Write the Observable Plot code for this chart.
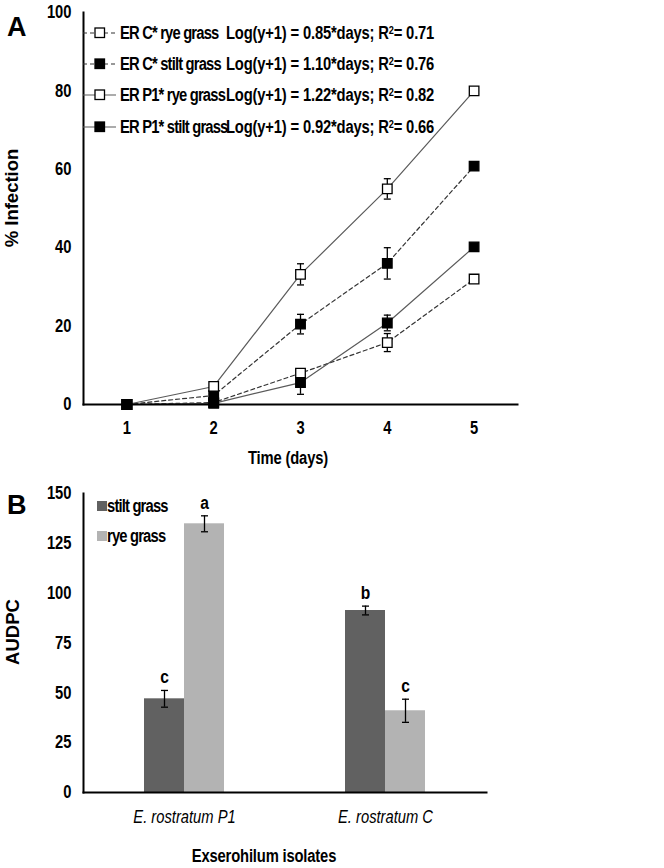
<!DOCTYPE html>
<html><head><meta charset="utf-8">
<script src="https://cdn.jsdelivr.net/npm/d3@7"></script>
<script src="https://cdn.jsdelivr.net/npm/@observablehq/plot@0.6"></script>
<style>
body{margin:0;background:#fff;}
#wrap{position:relative;width:664px;height:868px;overflow:hidden;font-family:"Liberation Sans",Arial,sans-serif;color:#000;}
#wrap svg{display:block;}
.abs{position:absolute;white-space:nowrap;line-height:1;}
sup{font-size:0.62em;vertical-align:0.45em;line-height:0;}
</style></head><body><div id="wrap"></div>
<script>
// ---------- Panel A data ----------
const days = [1, 2, 3, 4, 5];
const seriesNames = ["ER C* rye grass", "ER C* stilt grass", "ER P1* rye grass", "ER P1* stilt grass"];
const eqSlopes = ["0.85", "1.10", "1.22", "0.92"];
const eqR2 = ["0.71", "0.76", "0.82", "0.66"];
const seriesDashed = [true, true, false, false];
const seriesFilled = [false, true, false, true];
const cRyeValues    = [0, 0.5, 8.0, 15.8, 32.0];
const cStiltValues  = [0, 2.3, 20.5, 36.0, 60.8];
const p1RyeValues   = [0, 4.6, 33.2, 55.0, 80.0];
const p1StiltValues = [0, 0.3, 5.6, 20.8, 40.2];
const cRyeErr    = [0, 0, 0.8, 2.3, 0];
const cStiltErr  = [0, 0, 2.5, 4.0, 0];
const p1RyeErr   = [0, 0, 2.7, 2.6, 0];
const p1StiltErr = [0, 0, 3.0, 2.0, 0];
const yTicksA = [0, 20, 40, 60, 80, 100];

// ---------- Panel B data ----------
const isolates = ["E. rostratum P1", "E. rostratum C"];
const grasses = ["stilt grass", "rye grass"];
const stiltAUDPC = [47.0, 91.3];
const ryeAUDPC   = [134.8, 41.0];
const stiltErrB  = [4.2, 2.2];
const ryeErrB    = [4.0, 5.8];
const stiltLetters = ["c", "b"];
const ryeLetters   = ["a", "c"];
const yTicksB = [0, 25, 50, 75, 100, 125, 150];
const grassColors = ["#616161", "#b3b3b3"];

const wrap = document.getElementById("wrap");
const FONT = '"Liberation Sans",Arial,sans-serif';
const NARROW = 0.82; // Arial Narrow ≈ Arial compressed horizontally

const capSymbol = {draw(ctx) { ctx.moveTo(-3.5, 0); ctx.lineTo(3.5, 0); }};

// compress SVG texts horizontally around their anchor
function narrowTexts(svg) {
  svg.querySelectorAll("text").forEach(t => {
    const tr = t.getAttribute("transform");
    if (tr && tr.includes("translate")) {
      t.setAttribute("transform", tr + ` scale(${NARROW},1)`);
    } else {
      const x = +(t.getAttribute("x") || 0), y = +(t.getAttribute("y") || 0);
      t.setAttribute("transform", `${tr || ""} translate(${x},${y}) scale(${NARROW},1) translate(${-x},${-y})`);
    }
  });
}

// ---------- Panel A ----------
const seriesValues = [cRyeValues, cStiltValues, p1RyeValues, p1StiltValues];
const seriesErr = [cRyeErr, cStiltErr, p1RyeErr, p1StiltErr];
const rowsA = [];
seriesNames.forEach((s, i) => days.forEach((d, j) => rowsA.push({
  series: s, day: d, value: seriesValues[i][j], err: seriesErr[i][j],
  dashed: seriesDashed[i], filled: seriesFilled[i]
})));
const errA = rowsA.filter(d => d.err > 0);

const plotA = Plot.plot({
  width: 664, height: 470,
  marginLeft: 83, marginRight: 147, marginTop: 12, marginBottom: 66,
  style: {fontFamily: FONT, fontSize: "18px", fontWeight: "bold", color: "#000", background: "transparent", overflow: "visible"},
  x: {domain: [0.5, 5.5]},
  y: {domain: [0, 100]},
  marks: [
    Plot.line(rowsA.filter(d => d.dashed), {x: "day", y: "value", z: "series", stroke: "#333", strokeWidth: 1.2, strokeDasharray: "4,3"}),
    Plot.line(rowsA.filter(d => !d.dashed), {x: "day", y: "value", z: "series", stroke: "#5a5a5a", strokeWidth: 1.2}),
    Plot.ruleX(errA, {x: "day", y1: d => d.value - d.err, y2: d => d.value + d.err, stroke: "#000", strokeWidth: 1.3}),
    Plot.dot(errA, {x: "day", y: d => d.value + d.err, symbol: capSymbol, fill: "none", stroke: "#000", strokeWidth: 1.3}),
    Plot.dot(errA, {x: "day", y: d => d.value - d.err, symbol: capSymbol, fill: "none", stroke: "#000", strokeWidth: 1.3}),
    Plot.dot(rowsA, {x: "day", y: "value", symbol: "square", r: 5.4, fill: d => d.filled ? "#000" : "#fff", stroke: "#000", strokeWidth: 1.3}),
    Plot.frame({anchor: "left", stroke: "#000", strokeWidth: 2}),
    Plot.frame({anchor: "bottom", stroke: "#000", strokeWidth: 2}),
    Plot.axisY({ticks: yTicksA, tickSize: 0, tickPadding: 12, label: null}),
    Plot.axisX({ticks: days, tickSize: 0, tickPadding: 17, label: null, tickFormat: d => d})
  ]
});
narrowTexts(plotA);
wrap.appendChild(plotA);

// ---------- Panel B ----------
const rowsB = [];
isolates.forEach((iso, i) => {
  rowsB.push({isolate: iso, grass: grasses[0], value: stiltAUDPC[i], err: stiltErrB[i], letter: stiltLetters[i]});
  rowsB.push({isolate: iso, grass: grasses[1], value: ryeAUDPC[i], err: ryeErrB[i], letter: ryeLetters[i]});
});
function groupMarks(grass, color, dx) {
  const data = rowsB.filter(d => d.grass === grass);
  return [
    Plot.barY(data, {x: "isolate", y: "value", fill: color, dx}),
    Plot.ruleX(data, {x: "isolate", y1: d => d.value - d.err, y2: d => d.value + d.err, stroke: "#000", strokeWidth: 1.3, dx: dx}),
    Plot.dot(data, {x: "isolate", y: d => d.value + d.err, symbol: capSymbol, fill: "none", stroke: "#000", strokeWidth: 1.3, dx: dx}),
    Plot.dot(data, {x: "isolate", y: d => d.value - d.err, symbol: capSymbol, fill: "none", stroke: "#000", strokeWidth: 1.3, dx: dx}),
    Plot.text(data, {x: "isolate", y: d => d.value + d.err, text: "letter", dx: dx, dy: -7, lineAnchor: "bottom", fontSize: 19, fontWeight: "bold", fill: "#000"})
  ];
}
const plotB = Plot.plot({
  width: 664, height: 398,
  marginLeft: 83, marginRight: 178, marginTop: 23, marginBottom: 76,
  style: {fontFamily: FONT, fontSize: "18px", fontWeight: "bold", color: "#000", background: "transparent", overflow: "visible"},
  x: {domain: isolates, paddingInner: 0.8015, paddingOuter: 0.4007},
  y: {domain: [0, 150]},
  marks: [
    ...groupMarks(grasses[0], grassColors[0], -20),
    ...groupMarks(grasses[1], grassColors[1], 20),
    Plot.frame({anchor: "left", stroke: "#000", strokeWidth: 2}),
    Plot.frame({anchor: "bottom", stroke: "#000", strokeWidth: 2}),
    Plot.axisY({ticks: yTicksB, tickSize: 0, tickPadding: 12, label: null}),
    Plot.axisX({tickSize: 0, tickPadding: 18, label: null, fontStyle: "italic", fontWeight: "normal"})
  ]
});
narrowTexts(plotB);
wrap.appendChild(plotB);

// ---------- overlay texts & legends ----------
function addDiv(html, css) {
  const d = document.createElement("div");
  d.className = "abs";
  d.innerHTML = html;
  Object.assign(d.style, css);
  wrap.appendChild(d);
  return d;
}
const narrowLeft = {transform: `scaleX(${NARROW})`, transformOrigin: "0 50%"};
// panel letters
addDiv("A", {left: "7px", top: (37 - 0.846 * 27) + "px", fontWeight: "bold", fontSize: "27px"});
addDiv("B", {left: "7px", top: (515 - 0.846 * 27) + "px", fontWeight: "bold", fontSize: "27px"});
// axis titles
addDiv("% Infection", {left: "12px", top: "198px", transform: "translate(-50%,-50%) rotate(-90deg)", fontWeight: "bold", fontSize: "18.5px"});
addDiv("AUDPC", {left: "13px", top: "632px", transform: "translate(-50%,-50%) rotate(-90deg)", fontWeight: "bold", fontSize: "18.5px"});
addDiv("Time (days)", {left: "288px", top: "458px", transform: `translate(-50%,-50%) scaleX(${NARROW})`, fontWeight: "bold", fontSize: "18px", letterSpacing: "-0.2px"});
addDiv("Exserohilum isolates", {left: "264px", top: "856px", transform: `translate(-50%,-50%) scaleX(${NARROW})`, fontWeight: "bold", fontSize: "18px", letterSpacing: "-0.2px"});

// legend A
const legRowY = [33, 64, 95, 127];
seriesNames.forEach((name, i) => {
  const y = legRowY[i];
  const svg = `<svg width="34" height="14" style="display:block"><line x1="0" y1="7" x2="33" y2="7" stroke="${seriesDashed[i] ? "#333" : "#5a5a5a"}" stroke-width="1.2" ${seriesDashed[i] ? 'stroke-dasharray="4,3"' : ""}/><rect x="12" y="2" width="9.5" height="9.5" fill="${seriesFilled[i] ? "#000" : "#fff"}" stroke="#000" stroke-width="1.3"/></svg>`;
  addDiv(svg, {left: "83px", top: (y - 7) + "px"});
  addDiv(name, {left: "120px", top: (y - 9) + "px", fontWeight: "bold", fontSize: "18px", letterSpacing: "-1px", ...narrowLeft});
  addDiv(`Log(y+1) = ${eqSlopes[i]}*days; R<sup>2</sup>= ${eqR2[i]}`, {left: "226px", top: (y - 9) + "px", fontWeight: "bold", fontSize: "18px", letterSpacing: "-0.2px", ...narrowLeft});
});

// legend B
const legBY = [506, 536];
grasses.forEach((g, i) => {
  addDiv(`<svg width="10" height="10" style="display:block"><rect width="10" height="10" fill="${grassColors[i]}"/></svg>`, {left: "97px", top: (legBY[i] - 5) + "px"});
  addDiv(g, {left: "107px", top: (legBY[i] - 9) + "px", fontWeight: "bold", fontSize: "18px", letterSpacing: "-1px", ...narrowLeft});
});
</script></body></html>
